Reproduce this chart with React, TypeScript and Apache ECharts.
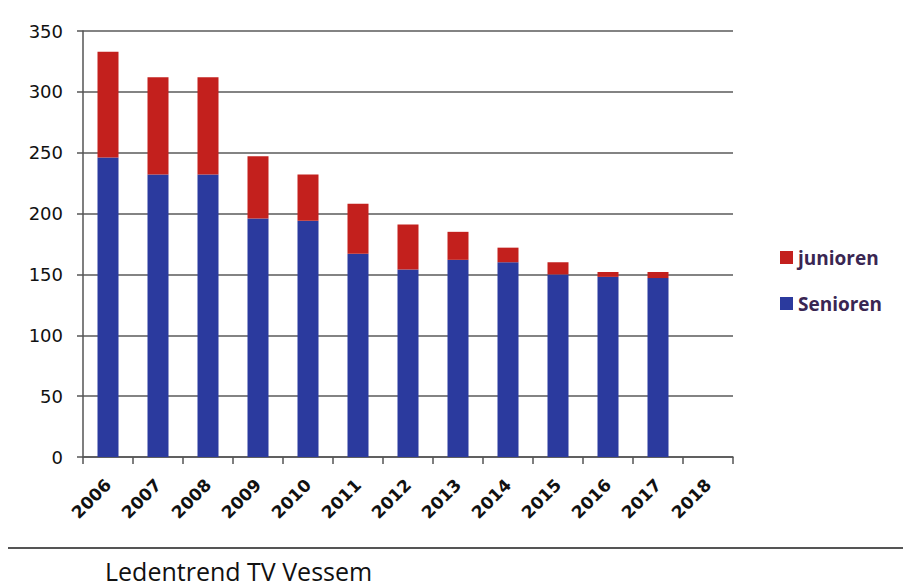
import React, { useEffect, useRef } from "react";
import * as echarts from "echarts";

const years = ["2006", "2007", "2008", "2009", "2010", "2011", "2012", "2013", "2014", "2015", "2016", "2017", "2018"];
const senioren = [246, 232, 232, 196, 194, 167, 154, 162, 160, 150, 148, 147, null];
const junioren = [87, 80, 80, 51, 38, 41, 37, 23, 12, 10, 4, 5, null];
const yTicks = { min: 0, max: 350, interval: 50 };
const titleText = "Ledentrend TV Vessem";

export default function App() {
  const ref = useRef<HTMLDivElement>(null);
  useEffect(() => {
    if (!ref.current) return;
    const chart = echarts.init(ref.current, null, { renderer: "svg" });
    chart.setOption({
      animation: false,
      backgroundColor: "#ffffff",
      grid: { left: 83, right: 170, top: 31, bottom: 130, containLabel: false },
      legend: {
        orient: "vertical",
        left: 775,
        top: 243,
        itemWidth: 13,
        itemHeight: 13,
        itemGap: 27,
        icon: "rect",
        data: ["junioren", "Senioren"],
        textStyle: { fontFamily: "Open Sans", fontWeight: "bold", fontSize: 19, color: "#3a2652", padding: [0, 0, 0, 0] },
      },
      xAxis: {
        type: "category",
        data: years,
        boundaryGap: true,
        axisLine: { lineStyle: { color: "#555", width: 1.5 } },
        axisTick: { show: true, length: 7, alignWithLabel: false, lineStyle: { color: "#555", width: 1.5 } },
        axisLabel: {
          rotate: 45,
          margin: 25,
          interval: 0,
          fontFamily: "DejaVu Sans",
          fontWeight: "bold",
          fontSize: 17,
          color: "#111",
        },
      },
      yAxis: {
        type: "value",
        min: yTicks.min,
        max: yTicks.max,
        interval: yTicks.interval,
        axisLine: { show: true, lineStyle: { color: "#555", width: 1.5 } },
        axisTick: { show: true, length: 6, lineStyle: { color: "#555", width: 1.5 } },
        splitLine: { lineStyle: { color: "#5a5a5a", width: 1.6 } },
        axisLabel: { margin: 20, fontFamily: "DejaVu Sans", fontSize: 18, color: "#111" },
      },
      series: [
        {
          name: "Senioren",
          type: "bar",
          stack: "total",
          data: senioren,
          barWidth: "42%",
          itemStyle: { color: "#2b3a9e" },
        },
        {
          name: "junioren",
          type: "bar",
          stack: "total",
          data: junioren,
          barWidth: "42%",
          itemStyle: { color: "#c3201d" },
        },
      ],
      graphic: [
        {
          type: "line",
          shape: { x1: 8, y1: 548, x2: 903, y2: 548 },
          style: { stroke: "#555", lineWidth: 2 },
        },
        {
          type: "text",
          left: 105,
          top: 557,
          style: { text: titleText, fontFamily: "Open Sans", fontSize: 25, lineHeight: 27, fill: "#111" },
        },
      ],
    });
    return () => chart.dispose();
  }, []);
  return <div ref={ref} style={{ width: 903, height: 587, position: "absolute", left: 0, top: 0 }} />;
}
